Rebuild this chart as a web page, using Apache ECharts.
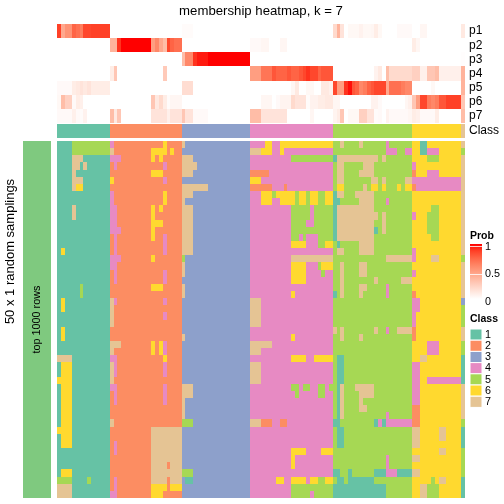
<!DOCTYPE html>
<html><head><meta charset="utf-8">
<style>html,body{margin:0;padding:0;background:#fff}#c{width:504px;height:504px}</style>
<script src="https://cdn.jsdelivr.net/npm/echarts@6/dist/echarts.min.js"></script>
</head><body><div id="c"></div>
<script>
const probNames = ['p1','p2','p3','p4','p5','p6','p7'];
const classLabels = ['1','2','3','4','5','6','7'];
const classColors = ['#66C2A5','#FC8D62','#8DA0CB','#E78AC3','#A6D854','#FFD92F','#E5C494'];
const classCounts = [14,19,18,22,21,13,1];
const p1 = [.87,.45,.55,.55,.75,.7,.65,.85,.85,.87,.87,.87,.87,.87,
 0,0,0,0,0,0,0,0,0,0,0,0,0,0,0,0,0,0,0,
 .02,.02,.02,0,0,0,0,0,0,0,0,0,0,0,0,0,0,0,
 0,0,0,0,0,0,0,0,0,0,0,0,0,0,0,0,0,0,0,0,0,0,
 .2,.4,.15,0,.04,.04,.04,.07,.04,.04,.05,.1,.04,0,0,0,0,.03,.03,.03,.03,
 0,0,.05,.05,0,0,0,0,0,0,0,0,0,
 .12];
const p2 = [0,0,0,0,0,0,0,0,0,0,0,0,0,0,
 .4,.4,.9,1,1,1,1,1,1,1,1,.5,.6,.45,.35,.85,.75,.7,.7,
 0,0,0,0,0,0,0,0,0,0,0,0,0,0,0,0,0,0,
 .03,.03,.03,.05,.05,0,0,0,.05,.05,0,0,0,0,0,0,0,0,0,0,0,0,
 0,0,0,0,0,0,0,0,0,0,0,0,0,0,0,0,0,0,0,0,0,
 .1,.05,0,0,0,0,0,0,0,0,0,0,0,
 0];
const p3 = [0,0,0,0,0,0,0,0,0,0,0,0,0,0,
 0,0,0,0,0,0,0,0,0,0,0,0,0,0,0,0,0,0,0,
 .35,.6,.6,.9,.95,.95,.95,1,1,1,1,1,1,1,1,1,1,1,
 0,0,0,0,0,0,0,0,0,0,0,0,0,0,0,0,0,0,0,0,0,0,
 0,0,0,0,0,0,0,0,0,0,0,0,0,0,0,0,0,0,0,0,0,
 0,0,0,0,0,0,0,0,0,0,0,0,0,
 .01];
const p4 = [0,0,0,0,0,0,0,0,0,0,0,0,0,0,
 .1,.3,0,0,0,0,0,0,0,0,0,0,0,0,.28,0,0,0,0,
 0,0,0,0,0,0,0,0,0,0,0,0,0,0,0,0,0,0,
 .5,.5,.5,.68,.68,.68,.8,.75,.75,.75,.8,.75,.75,.8,.85,.9,.85,.85,.75,.8,.8,.8,
 0,0,0,0,0,0,0,0,0,0,0,.07,.12,0,.35,.2,.2,.2,.2,.2,.2,
 .25,.25,.08,.08,.3,.3,.35,.08,.08,.08,.08,.08,.08,
 .4];
const p5 = [.03,.03,.03,.03,.1,.12,.15,.12,.15,.1,.1,.1,.1,.1,
 0,0,0,0,0,0,0,0,0,0,0,0,0,0,0,0,0,0,0,
 .18,.18,.18,0,0,0,0,0,0,0,0,0,0,0,0,0,0,0,
 0,0,0,0,0,0,0,0,0,0,0,.05,.12,0,0,.04,.04,0,0,.12,.12,.08,
 .85,.5,.5,.9,.97,.8,.75,.6,.65,.75,.8,.85,.85,.85,.45,.7,.7,.7,.65,.6,.6,
 0,0,0,0,0,.04,0,0,0,0,0,0,0,
 .4];
const p6 = [.04,.35,.25,.25,.03,.1,.08,0,0,0,0,0,0,0,
 0,0,0,0,0,0,0,0,0,0,0,.3,.12,.2,.1,.02,.05,.05,.05,
 0,0,0,0,0,0,0,0,0,0,0,0,0,0,0,0,0,0,
 0,0,0,.05,.05,.05,0,.03,.06,.06,.06,.2,.15,.15,.15,.02,.07,.07,.1,.1,.12,.12,
 .05,.05,0,0,0,0,0,0,0,0,.07,.07,.03,0,0,0,0,0,0,.05,.08,
 .3,.5,.85,.85,.65,.6,.65,.8,.8,.87,.87,.87,.87,
 .3];
const p7 = [.03,.03,.03,.03,.08,.03,.02,.07,0,0,0,0,0,0,
 .35,.12,.3,0,0,0,0,0,0,0,0,.15,.15,.15,.15,.08,.15,.15,.15,
 .3,.15,.15,.03,.03,.03,.03,0,0,0,0,0,0,0,0,0,0,0,
 .35,.35,.35,.15,.15,.15,.15,.15,.15,.15,0,0,0,0,0,0,.05,0,0,0,0,0,
 .06,.1,.3,0,.04,.04,.04,.25,.25,.15,.15,.02,.03,0,.07,.03,.03,.03,.03,.03,.05,
 .1,.08,.03,.03,.03,.03,.1,0,0,0,0,0,0,
 .35];
const probRows = [p1,p2,p3,p4,p5,p6,p7];
const sampleCount = 50;
// membership changes from each column's class: [firstRow,lastRow,firstCol,lastCol,class]
const changes1 = [[0,1,4,13,5],[2,2,4,6,7],[3,3,4,5,7],[3,3,7,7,7],[4,4,4,4,7],[5,5,4,6,7],[6,6,4,4,7],[6,6,5,6,6],[9,10,4,4,7],[15,15,1,1,6],[20,21,6,6,5],[22,23,1,1,6],[26,27,1,1,6],[30,30,0,3,7],[31,32,1,3,6],[33,33,0,3,6],[34,39,1,3,6],[40,40,0,3,6],[41,42,1,3,6],[46,46,1,3,6],[47,47,0,3,5],[47,47,8,8,5],[48,49,0,3,7]];
const changes2 = [[0,0,14,14,4],[0,0,28,28,6],[1,1,14,14,7],[1,1,25,28,6],[1,1,30,30,6],[2,2,14,16,4],[2,2,25,25,6],[2,2,27,27,6],[3,3,15,15,4],[3,3,28,28,4],[4,4,25,27,6],[5,5,14,14,6],[5,5,28,28,4],[7,8,14,14,4],[7,8,28,28,6],[9,10,14,15,4],[9,9,27,27,6],[9,13,25,25,6],[11,11,14,15,4],[11,11,25,27,6],[12,12,14,16,4],[13,15,15,15,4],[13,15,28,28,4],[16,16,14,16,4],[16,16,25,25,6],[17,17,14,15,4],[18,19,15,15,4],[18,19,28,28,4],[20,20,25,27,6],[22,22,14,14,7],[22,22,15,15,4],[22,22,28,28,4],[23,25,14,14,7],[24,24,28,28,4],[28,28,14,16,7],[28,29,25,25,6],[28,29,27,27,6],[28,29,28,28,4],[29,29,14,14,7],[30,30,14,15,4],[30,30,28,28,6],[31,32,14,14,7],[31,32,15,15,4],[31,32,28,28,4],[33,33,14,14,7],[34,34,14,15,4],[34,36,28,28,4],[35,36,15,15,4],[39,39,14,14,7],[40,47,25,32,7],[42,43,15,15,4],[45,45,29,29,2],[47,47,15,15,4],[47,47,29,29,2],[48,48,15,15,4],[48,48,25,28,6],[48,48,29,29,2],[48,48,30,32,6],[49,49,14,15,4],[49,49,25,27,6]];
const changes3 = [[0,0,33,33,7],[2,2,33,35,7],[3,3,33,36,7],[4,4,33,35,7],[6,6,33,39,7],[7,7,33,35,7],[8,8,33,33,7],[9,15,33,35,7],[16,16,33,33,5],[17,18,33,33,7],[20,21,33,33,7],[27,27,33,33,7],[34,35,33,35,7],[36,38,33,33,7],[39,39,33,35,5],[46,46,33,35,5],[47,47,34,35,1]];
const changes4 = [[0,0,55,56,6],[0,0,59,72,6],[1,1,51,53,7],[1,1,54,56,6],[1,1,59,59,6],[2,2,62,72,5],[4,4,51,55,2],[5,5,51,53,6],[6,6,51,56,2],[6,6,60,60,2],[7,8,54,56,6],[7,7,57,57,5],[7,7,58,62,6],[8,8,59,62,6],[7,8,63,63,5],[7,8,64,65,6],[7,8,66,66,5],[7,8,67,68,6],[7,8,69,70,5],[7,8,71,72,6],[9,10,62,66,5],[9,10,68,72,5],[11,11,62,65,5],[11,11,68,72,5],[12,12,62,72,5],[13,13,62,63,5],[13,13,65,65,5],[13,13,69,72,5],[14,14,62,65,6],[14,14,69,70,5],[14,14,71,72,6],[16,16,62,72,7],[17,17,62,65,6],[17,17,69,69,5],[17,17,70,72,6],[18,19,62,65,6],[18,18,70,70,5],[21,21,62,62,6],[22,25,51,53,7],[27,27,62,62,6],[28,28,51,56,7],[29,29,51,53,7],[30,30,62,65,6],[30,30,68,72,6],[31,33,51,53,7],[34,34,62,63,5],[34,34,65,66,5],[34,35,69,70,5],[34,34,72,72,5],[35,35,63,63,5],[39,39,51,53,7],[39,39,54,56,2],[39,39,59,60,2],[43,43,62,65,6],[43,43,70,72,6],[44,45,62,62,6],[47,47,58,59,6],[47,47,62,65,6],[47,47,67,68,6],[47,47,69,70,5],[47,47,71,72,6],[48,48,62,72,5],[49,49,62,66,5],[49,49,68,72,5]];
const changes5 = [[0,0,75,75,7],[0,0,80,80,7],[0,0,87,87,4],[1,1,87,89,4],[1,1,92,93,4],[2,2,73,73,1],[2,2,74,84,7],[2,2,86,86,7],[3,3,74,75,7],[3,3,81,83,7],[4,4,74,75,7],[4,4,80,83,7],[5,5,74,75,7],[5,5,83,84,7],[5,5,86,86,7],[5,5,92,93,7],[6,6,74,75,6],[6,6,81,81,7],[6,6,83,84,6],[6,6,86,86,6],[6,6,90,90,6],[6,6,92,93,6],[7,7,73,73,1],[7,7,74,75,7],[7,7,79,83,7],[8,8,73,74,1],[8,8,80,83,7],[8,8,87,87,4],[9,13,73,73,1],[9,9,74,83,7],[10,10,74,84,7],[10,12,86,86,7],[11,13,74,83,7],[12,12,84,84,1],[14,14,74,74,1],[14,15,80,83,7],[15,15,74,75,7],[16,16,87,93,7],[17,21,75,75,7],[17,18,80,81,7],[19,19,84,84,7],[19,19,91,93,7],[20,20,80,81,7],[20,21,87,87,4],[21,21,73,73,1],[21,21,80,80,7],[26,26,73,73,7],[26,27,75,75,7],[26,26,84,84,7],[26,26,87,87,4],[26,26,90,93,7],[27,27,80,80,7],[30,33,74,75,1],[34,38,74,74,1],[34,38,75,75,7],[34,34,79,83,7],[35,35,80,83,7],[36,36,80,80,7],[37,37,80,81,7],[38,38,87,87,4],[39,39,73,74,1],[39,39,84,84,1],[39,39,85,85,4],[39,39,86,86,1],[39,39,87,93,4],[40,42,74,75,1],[44,45,87,87,4],[46,46,73,74,1],[46,46,77,77,1],[46,46,84,86,1],[46,46,87,89,4],[46,46,90,93,1],[47,47,74,75,1],[47,47,77,83,1],[48,49,73,86,1]];
const changes6 = [[0,1,96,97,1],[1,1,98,100,4],[2,2,98,100,5],[3,3,94,94,4],[4,4,94,94,2],[4,4,98,100,4],[5,5,94,106,4],[6,6,94,94,2],[6,6,95,106,4],[9,9,99,100,5],[10,10,94,94,4],[10,12,98,100,5],[13,13,99,100,5],[15,16,94,94,4],[16,16,99,100,7],[18,18,94,94,4],[21,21,94,94,2],[22,23,94,95,4],[24,25,94,94,4],[26,27,94,94,2],[28,29,98,100,4],[30,30,96,97,7],[31,36,94,95,4],[33,33,98,106,4],[37,39,94,95,2],[40,42,94,95,7],[40,41,101,102,7],[43,43,101,102,7],[44,44,94,95,7],[46,46,94,95,7],[47,47,99,99,5],[47,47,101,102,7],[48,49,96,97,7],[48,49,98,100,5]];
const changes7 = [[1,1,107,107,5],[16,16,107,107,5],[22,22,107,107,3],[23,25,107,107,5],[28,29,107,107,5],[30,33,107,107,1],[39,39,107,107,5],[40,42,107,107,1],[43,46,107,107,5],[47,49,107,107,1]];

const colClass = [];
classCounts.forEach((n,k)=>{for(let i=0;i<n;i++)colClass.push(k+1);});
const colNames = colClass.map((_,i)=>String(i));
const rowNames = Array.from({length:sampleCount},(_,i)=>String(i));
const member = rowNames.map(()=>colClass.slice());
[changes1,changes2,changes3,changes4,changes5,changes6,changes7].forEach(list=>list.forEach(([r0,r1,c0,c1,v])=>{
  for(let r=r0;r<=r1;r++)for(let c=c0;c<=c1;c++)member[r][c]=v;
}));
const probData=[];probRows.forEach((row,r)=>row.forEach((v,c)=>probData.push([c,r,v])));
const classData=colClass.map((v,c)=>[c,0,v]);
const memberData=[];member.forEach((row,r)=>row.forEach((v,c)=>memberData.push([c,r,v])));

const gradStops=['#FFFFFF','#FFE8E0','#FFD0C1','#FFB8A1','#FF9E81','#FF8363','#FF6445','#FF4026','#FF0000'];
const font='"Liberation Sans",Arial,sans-serif';
const hiddenX=(g)=>({type:'category',gridIndex:g,data:colNames,show:false});
const cat=(g,data,show)=>({type:'category',gridIndex:g,data,inverse:true,position:'right',
  axisLine:{show:false},axisTick:{show:false},splitLine:{show:false},
  axisLabel:{show,interval:0,color:'#000',fontFamily:font,fontSize:12,margin:4}});
const pieces=classColors.map((c,i)=>({value:i+1,color:c}));
// cell drawn from the axis scales, snapped to whole pixels so neighbouring cells leave no seam
function cell(params,api){
  const p=api.coord([api.value(0),api.value(1)]);
  const s=api.size([1,1]);
  const x0=Math.round(p[0]-s[0]/2),x1=Math.round(p[0]+s[0]/2);
  const y0=Math.round(p[1]-s[1]/2),y1=Math.round(p[1]+s[1]/2);
  return {type:'rect',shape:{x:x0,y:y0,width:x1-x0,height:y1-y0},style:{fill:api.visual('color')}};
}
const cellSeries=(g,data)=>({type:'custom',xAxisIndex:g,yAxisIndex:g,data,renderItem:cell,
  encode:{x:0,y:1},progressive:0,silent:true,clip:false});
const legendItems=[];
classLabels.forEach((t,i)=>{
  const y=329+i*11.2;
  legendItems.push({type:'rect',z:100,shape:{x:470,y:y,width:12,height:11.2},style:{fill:classColors[i],stroke:'#fff',lineWidth:1}});
  legendItems.push({type:'text',z:100,style:{text:t,x:485,y:y+5.8,fill:'#000',font:'10.8px '+font,textVerticalAlign:'middle'}});
});
const option={
  animation:false,backgroundColor:'#fff',
  title:{text:'membership heatmap, k = 7',left:256,top:0,textAlign:'center',
    textStyle:{fontFamily:font,fontSize:13.2,fontWeight:'normal',color:'#000'}},
  grid:[
    {left:57,top:24,width:408,height:99},
    {left:57,top:124,width:408,height:14},
    {left:57,top:141,width:408,height:357},
    {left:23,top:141,width:28,height:357}
  ],
  xAxis:[hiddenX(0),hiddenX(1),hiddenX(2),{type:'category',gridIndex:3,data:['a'],show:false}],
  yAxis:[cat(0,probNames,true),cat(1,['Class'],true),cat(2,rowNames,false),cat(3,['a'],false)],
  visualMap:[
    {type:'continuous',show:false,min:0,max:1,seriesIndex:0,dimension:2,inRange:{color:gradStops}},
    {type:'piecewise',show:false,seriesIndex:[1,2],dimension:2,pieces},
    {type:'piecewise',show:false,seriesIndex:3,dimension:2,pieces:[{value:1,color:'#7FC97F'}]}
  ],
  series:[cellSeries(0,probData),cellSeries(1,classData),cellSeries(2,memberData),cellSeries(3,[[0,0,1]])],
  graphic:[
    {type:'text',z:100,rotation:Math.PI/2,x:10.5,y:251.5,style:{text:'50 x 1 random samplings',fill:'#000',font:'13px '+font,textAlign:'center',textVerticalAlign:'middle'}},
    {type:'text',z:100,rotation:Math.PI/2,x:37.5,y:319.5,style:{text:'top 1000 rows',fill:'#000',font:'10.8px '+font,textAlign:'center',textVerticalAlign:'middle'}},
    {type:'text',z:100,style:{text:'Prob',x:470,y:236,fill:'#000',font:'bold 10.5px '+font,textVerticalAlign:'middle'}},
    {type:'rect',z:100,shape:{x:470,y:244,width:12,height:55},style:{fill:{type:'linear',x:0,y:1,x2:0,y2:0,
      colorStops:gradStops.map((c,i)=>({offset:i/(gradStops.length-1),color:c}))}}},
    {type:'line',z:101,shape:{x1:470,y1:246.5,x2:482,y2:246.5},style:{stroke:'#fff',lineWidth:1,opacity:.8}},
    {type:'line',z:101,shape:{x1:470,y1:274.5,x2:482,y2:274.5},style:{stroke:'#fff',lineWidth:1,opacity:.8}},
    {type:'text',z:100,style:{text:'1',x:485,y:247,fill:'#000',font:'10.8px '+font,textVerticalAlign:'middle'}},
    {type:'text',z:100,style:{text:'0.5',x:485,y:274,fill:'#000',font:'10.8px '+font,textVerticalAlign:'middle'}},
    {type:'text',z:100,style:{text:'0',x:485,y:302,fill:'#000',font:'10.8px '+font,textVerticalAlign:'middle'}},
    {type:'text',z:100,style:{text:'Class',x:470,y:319,fill:'#000',font:'bold 10.5px '+font,textVerticalAlign:'middle'}},
    ...legendItems
  ]
};
echarts.init(document.getElementById('c'),null,{renderer:'canvas'}).setOption(option);
</script></body></html>
